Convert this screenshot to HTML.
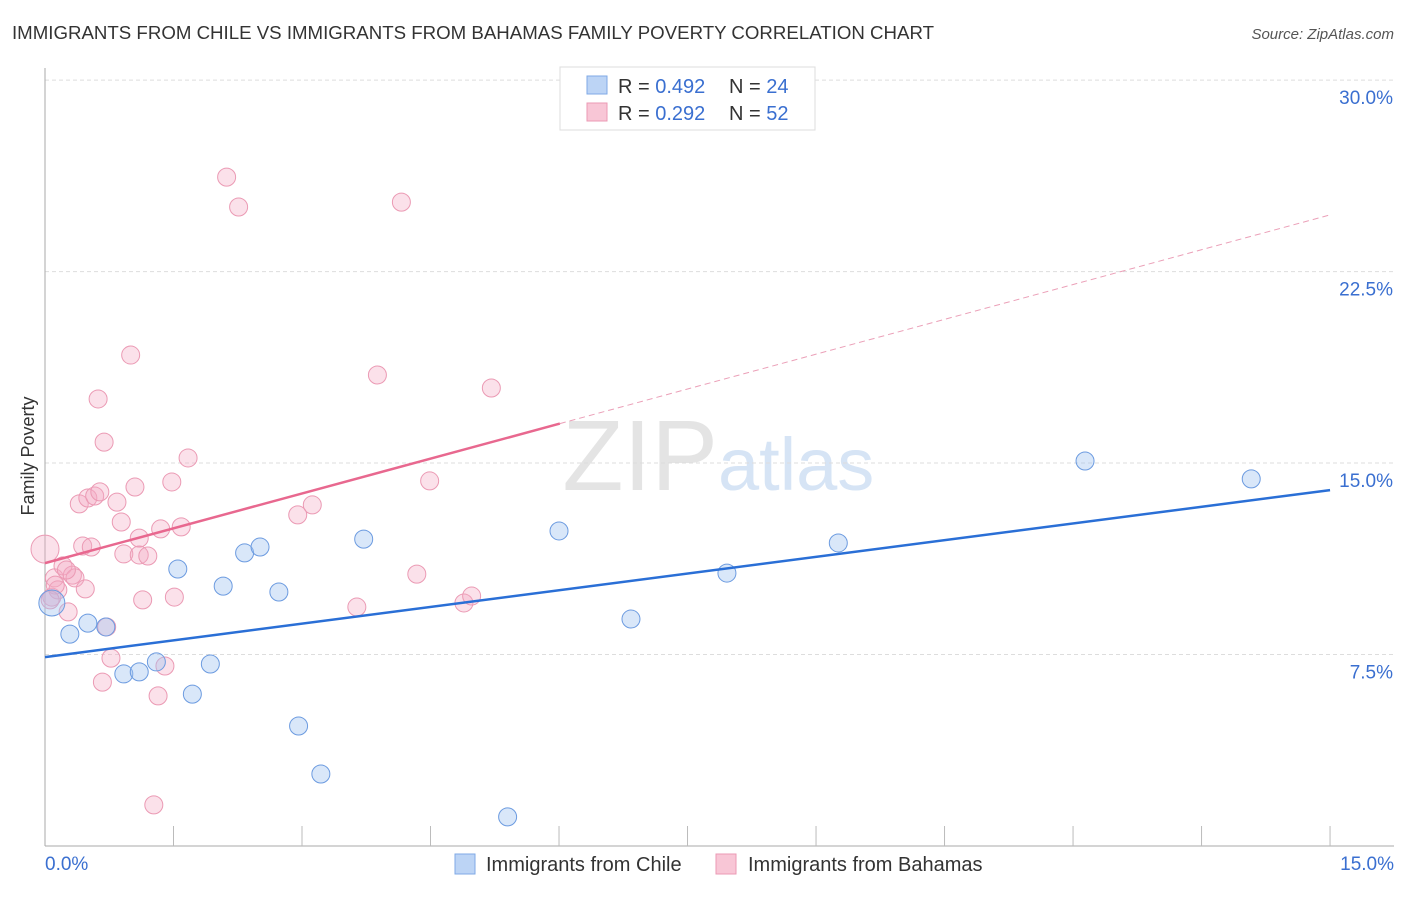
<!DOCTYPE html>
<html><head><meta charset="utf-8"><style>
body{margin:0;background:#fff;font-family:"Liberation Sans",sans-serif;}
svg text{font-family:"Liberation Sans",sans-serif;}
</style></head><body>
<svg width="1406" height="892" id="c">
<text x="12" y="39" font-size="18" fill="#333" textLength="922" lengthAdjust="spacingAndGlyphs">IMMIGRANTS FROM CHILE VS IMMIGRANTS FROM BAHAMAS FAMILY POVERTY CORRELATION CHART</text>
<text x="1394" y="39" font-size="15" fill="#555" text-anchor="end" font-style="italic">Source: ZipAtlas.com</text>
<text x="718" y="490" font-size="100" fill="#e4e4e4" text-anchor="end" font-family="Liberation Serif">ZIP</text>
<text x="718" y="490" font-size="74" fill="#d6e4f5">atlas</text>
<text x="34" y="456" font-size="18" fill="#333" text-anchor="middle" transform="rotate(-90 34 456)">Family Poverty</text>
<g id="grid"></g><g id="pts"></g><g id="lines"></g>
<g>
<rect x="560" y="67" width="255" height="63" fill="#fff" stroke="#ddd"/>
<rect x="587" y="76" width="20" height="18" fill="#bcd4f5" stroke="#7fa9e6"/>
<rect x="587" y="103" width="20" height="18" fill="#f8c6d6" stroke="#eb9ab4"/>
<text x="618" y="93" font-size="20" fill="#333">R = <tspan fill="#3a6fd0">0.492</tspan></text>
<text x="729" y="93" font-size="20" fill="#333">N = <tspan fill="#3a6fd0">24</tspan></text>
<text x="618" y="120" font-size="20" fill="#333">R = <tspan fill="#3a6fd0">0.292</tspan></text>
<text x="729" y="120" font-size="20" fill="#333">N = <tspan fill="#3a6fd0">52</tspan></text>
</g>
<g>
<rect x="455" y="854" width="20" height="20" fill="#bcd4f5" stroke="#7fa9e6"/>
<text x="486" y="871" font-size="20" fill="#333">Immigrants from Chile</text>
<rect x="716" y="854" width="20" height="20" fill="#f8c6d6" stroke="#eb9ab4"/>
<text x="748" y="871" font-size="20" fill="#333">Immigrants from Bahamas</text>
</g>
</svg>
<script>
const yTicks=[7.5,15,22.5,30];
const yTickLabels=["7.5%","15.0%","22.5%","30.0%"];
const xTickVals=[0,1.5,3,4.5,6,7.5,9,10.5,12,13.5,15];
const chileX=[0.08,0.29,0.50,0.71,0.92,1.10,1.30,1.55,1.72,1.93,2.08,2.33,2.51,2.73,2.96,3.22,3.72,5.40,6.00,6.84,7.96,9.26,12.14,14.08];
const chileY=[9.52,8.30,8.73,8.58,6.74,6.82,7.21,10.85,5.95,7.13,10.18,11.48,11.71,9.95,4.70,2.82,12.02,1.14,12.34,8.89,10.69,11.87,15.08,14.38];
const bahX=[0.00,0.08,0.11,0.15,0.21,0.27,0.32,0.35,0.40,0.44,0.47,0.50,0.54,0.58,0.64,0.62,0.69,0.67,0.72,0.77,0.84,0.89,0.92,1.00,1.05,1.10,1.10,1.14,1.20,1.27,1.32,1.35,1.40,1.48,1.51,1.59,1.67,2.12,2.26,2.95,3.12,3.64,3.88,4.16,4.34,4.49,4.89,4.98,5.21,0.25,0.12,0.06];
const bahY=[11.63,9.75,10.50,10.03,10.97,9.17,10.61,10.50,13.40,11.75,10.07,13.63,11.71,13.71,13.87,17.51,15.82,6.42,8.58,7.36,13.47,12.69,11.44,19.23,14.06,12.06,11.40,9.64,11.36,1.61,5.88,12.42,7.05,14.26,9.75,12.50,15.20,26.20,25.03,12.97,13.36,9.36,18.45,25.22,10.65,14.30,9.52,9.79,17.94,10.81,10.22,9.64];
const chileLine=[7.40,13.94];
const bahLine=[11.08,24.72];const bahSolidEnd=6.01;
const X=v=>45+v*85.67, Y=v=>846-v*25.53;
const NS="http://www.w3.org/2000/svg";
function mk(t,a,p){const e=document.createElementNS(NS,t);for(const k in a)e.setAttribute(k,a[k]);p.appendChild(e);return e;}
const g=document.getElementById('grid');
yTicks.forEach((t,i)=>{
 const l=mk('line',{x1:45,x2:1394,y1:Y(t),y2:Y(t),stroke:'#ddd','stroke-dasharray':'4,3'},g);
 
 
 const tx=mk('text',{x:1393,y:Y(t)+24,'font-size':19,fill:'#3a6fd0','text-anchor':'end'},g);tx.textContent=yTickLabels[i];
 
 
});
mk('line',{x1:45,x2:45,y1:68,y2:846,stroke:'#aaa'},g);
mk('line',{x1:45,x2:1394,y1:846,y2:846,stroke:'#aaa'},g);
xTickVals.forEach(v=>{if(v>0){const t=mk('line',{x1:X(v),x2:X(v),y1:826,y2:846,stroke:'#bbb'},g);
 
 }});
let t0=mk('text',{x:45,y:870,'font-size':19,fill:'#3a6fd0'},g);t0.textContent="0.0%";


let t1=mk('text',{x:1394,y:870,'font-size':19,fill:'#3a6fd0','text-anchor':'end'},g);t1.textContent="15.0%";


const p=document.getElementById('pts');
bahX.forEach((x,i)=>{const c=mk('circle',{cx:X(x),cy:Y(bahY[i]),r:i==0?14:9,fill:'rgba(244,170,195,0.35)',stroke:'#eb9ab4','stroke-width':1},p);
 
 });
chileX.forEach((x,i)=>{const c=mk('circle',{cx:X(x),cy:Y(chileY[i]),r:i==0?13:9,fill:'rgba(160,195,240,0.4)',stroke:'#6c9be0','stroke-width':1},p);
 
 });
const L=document.getElementById('lines');
let bl=mk('line',{x1:X(0),y1:Y(chileLine[0]),x2:X(15),y2:Y(chileLine[1]),stroke:'#2a6fd6','stroke-width':2.5},L);


const bm=v=>bahLine[0]+(bahLine[1]-bahLine[0])*v/15;
let pl=mk('line',{x1:X(0),y1:Y(bahLine[0]),x2:X(bahSolidEnd),y2:Y(bm(bahSolidEnd)),stroke:'#e8688f','stroke-width':2.5},L);


let pd=mk('line',{x1:X(bahSolidEnd),y1:Y(bm(bahSolidEnd)),x2:X(15),y2:Y(bahLine[1]),stroke:'#eba0b8','stroke-width':1,'stroke-dasharray':'6,4'},L);


</script>
</body></html>
